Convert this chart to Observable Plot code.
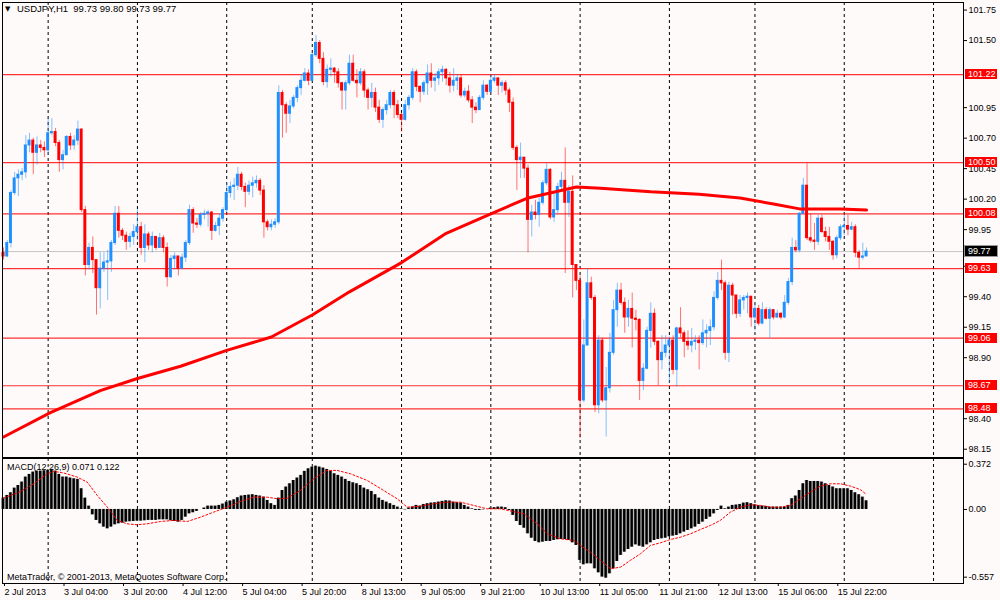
<!DOCTYPE html>
<html><head><meta charset="utf-8">
<script src="https://cdn.jsdelivr.net/npm/d3@7"></script>
<script src="https://cdn.jsdelivr.net/npm/@observablehq/plot@0.6"></script>
<style>
html,body{margin:0;padding:0;background:#fffafa;}
#wrap{position:relative;width:1000px;height:600px;overflow:hidden;background:#fffafa;font-family:"Liberation Sans",Arial,sans-serif;font-size:9px;color:#000;}
#wrap svg{position:absolute;left:0;overflow:visible;}
.txt{position:absolute;white-space:pre;line-height:12px;font-size:9px;}
.lbl{position:absolute;left:965px;width:32px;height:10px;line-height:10px;font-size:9px;padding-left:3px;box-sizing:border-box;color:#fff;white-space:pre;}
</style></head><body><div id="wrap"></div>
<script>
// ---------- data ----------
const symbol = "USDJPY,H1";
const firstOpen = 99.76;
const closes = [
99.73,99.84,100.25,100.37,100.40,100.42,100.64,100.68,100.58,100.64,
100.62,100.60,100.74,100.75,100.66,100.52,100.56,100.71,100.64,100.68,
100.77,100.11,99.66,99.80,99.70,99.47,99.63,99.68,99.69,99.84,
100.08,99.94,99.90,99.85,99.89,99.93,99.97,99.80,99.91,99.82,
99.89,99.80,99.88,99.80,99.56,99.71,99.73,99.63,99.72,99.84,
100.11,100.00,99.99,100.07,100.08,100.09,99.94,99.98,100.04,100.11,
100.25,100.30,100.31,100.40,100.30,100.26,100.31,100.33,100.35,100.27,
100.01,99.97,99.99,100.01,101.07,100.97,100.90,100.96,101.03,101.11,
101.17,101.23,101.17,101.38,101.48,101.35,101.16,101.26,101.27,101.24,
101.15,101.09,101.15,101.31,101.17,101.15,101.24,101.09,101.03,101.07,
100.95,100.85,100.93,100.97,101.07,100.97,100.89,100.85,100.97,101.03,
101.24,101.12,101.08,101.15,101.23,101.17,101.19,101.24,101.26,101.19,
101.13,101.17,101.19,101.05,101.08,101.01,100.95,100.93,101.03,101.13,
101.08,101.17,101.19,101.13,101.15,101.09,100.99,100.62,100.52,100.54,
100.45,100.03,100.09,100.07,100.17,100.33,100.44,100.05,100.11,100.30,
100.35,100.17,100.26,99.66,99.53,98.55,99.00,99.51,99.39,98.51,
99.04,98.55,98.65,98.94,99.29,99.45,99.35,99.23,99.30,99.22,
99.21,98.71,98.81,99.12,99.26,99.03,98.88,98.94,99.00,99.04,
98.80,99.14,99.10,99.03,99.00,99.03,99.04,99.02,99.10,99.12,
99.15,99.39,99.53,99.51,98.94,99.49,99.41,99.26,99.37,99.39,
99.40,99.23,99.30,99.18,99.29,99.22,99.29,99.23,99.26,99.23,
99.35,99.52,99.80,99.78,100.08,100.31,99.88,99.86,99.85,100.04,
99.93,99.89,99.85,99.74,99.88,99.97,99.98,99.95,99.97,99.76,
99.72,99.73,99.77];
const highs = [
99.80,99.86,100.27,100.42,100.44,100.45,100.72,100.74,100.70,100.71,
100.68,100.67,100.86,100.86,100.78,100.68,100.60,100.72,100.74,100.72,
100.84,100.78,100.14,99.84,99.89,99.70,99.76,99.76,99.78,99.86,
100.14,100.14,99.96,99.93,99.92,99.99,100.11,100.01,99.99,99.93,
99.93,99.86,99.92,99.90,99.84,99.74,99.76,99.73,99.75,99.86,
100.15,100.13,100.04,100.09,100.11,100.11,100.10,100.01,100.08,100.13,
100.33,100.34,100.37,100.46,100.42,100.33,100.35,100.38,100.39,100.37,
100.31,100.03,100.03,100.04,101.13,101.09,100.99,101.01,101.05,101.13,
101.22,101.27,101.26,101.40,101.54,101.50,101.40,101.30,101.35,101.28,
101.27,101.16,101.17,101.38,101.38,101.26,101.27,101.26,101.11,101.15,
101.11,101.01,100.95,101.01,101.09,101.09,101.01,100.91,101.01,101.05,
101.27,101.26,101.13,101.17,101.30,101.31,101.23,101.27,101.29,101.27,
101.24,101.27,101.22,101.22,101.11,101.13,101.04,100.99,101.05,101.17,
101.14,101.22,101.22,101.19,101.17,101.17,101.11,101.03,100.64,100.66,
100.54,100.48,100.15,100.19,100.21,100.35,100.49,100.45,100.25,100.33,
100.42,100.62,100.31,100.39,99.66,99.57,99.21,99.63,99.56,99.41,
99.08,99.06,98.82,99.10,99.37,99.51,99.51,99.39,99.37,99.43,
99.29,99.22,98.85,99.15,99.35,99.30,99.04,99.08,99.08,99.07,
99.08,99.15,99.31,99.12,99.12,99.14,99.08,99.08,99.21,99.17,
99.21,99.44,99.60,99.70,99.53,99.52,99.51,99.41,99.41,99.41,
99.43,99.40,99.35,99.33,99.35,99.31,99.31,99.29,99.29,99.27,
99.41,99.55,99.88,99.86,100.09,100.37,100.49,100.08,100.00,100.07,
100.07,99.97,99.97,99.86,99.90,99.99,100.07,100.07,100.01,99.99,
99.78,99.84,99.80];
const lows = [
99.70,99.72,99.80,100.23,100.22,100.35,100.37,100.58,100.40,100.48,
100.58,100.54,100.56,100.72,100.63,100.42,100.44,100.56,100.60,100.60,
100.64,100.09,99.57,99.62,99.59,99.25,99.30,99.60,99.37,99.60,
99.82,99.88,99.86,99.78,99.80,99.82,99.86,99.74,99.68,99.78,
99.76,99.78,99.80,99.76,99.48,99.55,99.62,99.57,99.62,99.68,
99.82,99.92,99.96,99.97,100.03,99.97,99.86,99.93,99.90,100.01,
100.09,100.21,100.19,100.27,100.27,100.13,100.23,100.21,100.29,100.23,
99.88,99.94,99.94,99.96,99.99,100.70,100.74,100.82,100.94,100.99,
101.05,101.16,101.13,101.17,101.36,101.31,101.13,101.11,101.20,101.15,
101.11,100.93,100.93,101.13,101.16,101.03,101.13,101.03,100.93,100.95,
100.91,100.82,100.78,100.89,100.94,100.86,100.86,100.75,100.84,100.93,
101.01,101.08,100.99,101.05,101.05,101.11,101.08,101.13,101.16,101.13,
101.07,101.08,101.09,101.03,101.03,100.99,100.82,100.90,100.93,101.01,
101.05,101.07,101.15,101.05,101.07,101.05,100.91,100.60,100.27,100.37,
100.37,99.76,99.89,100.03,99.97,100.15,100.31,100.03,100.01,100.07,
100.26,99.59,100.05,99.39,99.45,98.24,98.53,99.00,99.37,98.45,
98.44,98.53,98.25,98.61,98.92,99.15,99.33,99.10,99.15,98.98,
99.12,98.55,98.63,98.80,98.98,99.00,98.67,98.80,98.90,98.69,
98.76,98.66,99.06,98.90,98.96,98.94,98.96,98.80,99.00,98.98,
99.00,99.12,99.37,99.45,98.88,98.86,99.25,99.22,99.23,99.29,
99.26,99.15,99.12,99.16,99.17,99.21,99.06,99.21,99.22,99.21,
99.22,99.33,99.49,99.76,99.76,100.08,99.86,99.84,99.78,99.82,
99.92,99.85,99.78,99.70,99.71,99.86,99.90,99.90,99.94,99.72,
99.63,99.70,99.73];
// moving average (sparse readings: bar position, value)
const maBars   = [0, 12.6, 26, 36, 47.6, 60, 72, 83, 93, 107, 119, 131, 141, 154, 160.5, 174, 187, 198, 207, 214, 225, 232];
const maValues = [98.25, 98.45, 98.63, 98.73, 98.83, 98.96, 99.07, 99.25, 99.44, 99.68, 99.92, 100.08, 100.21, 100.30, 100.29, 100.26, 100.24, 100.21, 100.16, 100.12, 100.12, 100.11];
// horizontal levels
const levels = [101.22, 100.50, 100.08, 99.63, 99.06, 98.67, 98.48];
const priceTicks = [101.75, 101.50, 100.95, 100.70, 100.45, 100.20, 99.95, 99.65, 99.40, 99.15, 98.90, 98.40, 98.15];
// MACD(12,26,9)
const macdHist = [
0.093,0.115,0.137,0.175,0.197,0.225,0.266,0.288,0.307,0.315,
0.315,0.318,0.321,0.329,0.315,0.288,0.266,0.266,0.258,0.252,
0.247,0.17,0.093,0.027,-0.044,-0.09,-0.118,-0.145,-0.159,-0.145,
-0.126,-0.118,-0.112,-0.104,-0.101,-0.099,-0.096,-0.096,-0.093,-0.09,
-0.09,-0.09,-0.085,-0.085,-0.085,-0.093,-0.099,-0.104,-0.09,-0.063,
-0.036,-0.027,-0.016,0.0,0.011,0.027,0.027,0.027,0.033,0.044,
0.06,0.069,0.079,0.096,0.11,0.115,0.118,0.121,0.115,0.11,
0.101,0.074,0.047,0.033,0.093,0.156,0.184,0.211,0.238,0.258,
0.28,0.313,0.334,0.348,0.356,0.348,0.34,0.329,0.313,0.293,
0.28,0.266,0.247,0.23,0.219,0.211,0.197,0.175,0.162,0.148,
0.121,0.093,0.074,0.06,0.047,0.033,0.019,0.005,-0.003,0.011,
0.019,0.033,0.027,0.041,0.047,0.052,0.055,0.06,0.066,0.071,
0.069,0.06,0.055,0.052,0.033,0.019,0.005,-0.008,-0.008,-0.003,
0.0,0.011,0.014,0.019,0.019,0.014,-0.008,-0.049,-0.099,-0.132,
-0.154,-0.2,-0.236,-0.263,-0.274,-0.269,-0.263,-0.263,-0.255,-0.249,
-0.247,-0.247,-0.255,-0.274,-0.296,-0.419,-0.455,-0.447,-0.447,-0.488,
-0.521,-0.556,-0.565,-0.529,-0.488,-0.428,-0.378,-0.351,-0.329,-0.31,
-0.291,-0.302,-0.31,-0.291,-0.274,-0.255,-0.247,-0.241,-0.236,-0.225,
-0.219,-0.214,-0.2,-0.186,-0.173,-0.159,-0.145,-0.123,-0.104,-0.082,
-0.063,-0.036,-0.008,0.027,0.005,0.019,0.033,0.036,0.041,0.052,
0.055,0.047,0.038,0.03,0.027,0.025,0.019,0.019,0.019,0.019,
0.019,0.033,0.088,0.11,0.156,0.211,0.238,0.23,0.23,0.23,
0.225,0.211,0.197,0.184,0.17,0.17,0.17,0.17,0.156,0.137,
0.121,0.101,0.071];
const signalBars = [0,4.6,8.1,11.7,13.5,16.2,19.8,22.5,25.2,27.9,30.6,33.2,35.9,38.6,42.2,45.8,49.4,53,56.5,60.1,63.7,67.3,70.9,73.6,76.3,79.8,83.4,87,89.7,93.3,97.8,102.2,105.8,108.5,112.1,115.7,119.3,122.8,126.4,130,133.6,139.9,143.5,146.2,149.7,153.3,155.1,157.8,160.5,163.2,165.9,168.5,171.2,173.9,176.6,179.3,182,184.7,187.4,190,192.7,195.4,198.1,200.8,203.5,206.2,208.9,211.6,214.2,216.9,219.6,222.3,225,227.7,230.4,232];
const signalValues = [0.093,0.148,0.211,0.293,0.313,0.30,0.266,0.225,0.115,0.019,-0.09,-0.118,-0.126,-0.118,-0.099,-0.09,-0.099,-0.063,-0.022,0.019,0.066,0.101,0.101,0.088,0.093,0.156,0.252,0.321,0.321,0.293,0.238,0.156,0.088,0.019,0.027,0.047,0.06,0.06,0.033,0.005,0.005,-0.036,-0.118,-0.2,-0.241,-0.255,-0.296,-0.351,-0.419,-0.488,-0.474,-0.419,-0.365,-0.296,-0.274,-0.247,-0.228,-0.2,-0.164,-0.132,-0.09,-0.022,0.019,0.038,0.033,0.019,0.019,0.033,0.088,0.143,0.192,0.211,0.211,0.192,0.162,0.122];
const macdTicks = [0.372, 0, -0.557];
const macdTickLabels = ["0.372", "0.00", "-0.557"];
// time axis
const labelBars = [0,16,32,48,64,80,96,112,128,144,160,176,192,208,224];
const timeLabels = ["2 Jul 2013","3 Jul 04:00","3 Jul 20:00","4 Jul 12:00","5 Jul 04:00","5 Jul 20:00","8 Jul 13:00","9 Jul 05:00","9 Jul 21:00","10 Jul 13:00","11 Jul 05:00","11 Jul 21:00","12 Jul 13:00","15 Jul 06:00","15 Jul 22:00"];
const gridBars = [12,36,60,83,107,131,155,179,202,226,250];

// ---------- build ----------
const X_DOMAIN = [-0.27, 258.06];
const BLUE = "#1e90ff", RED = "#ff0000";
const candles = closes.map((c, i) => {
  const o = i === 0 ? firstOpen : closes[i - 1];
  return {i, o, c, h: highs[i], l: lows[i], up: c >= o};
});
const last = candles[candles.length - 1];
const ma = maBars.map((b, k) => ({b, v: maValues[k]}));
const hist = macdHist.map((v, i) => ({i, v}));
const signal = signalBars.map((b, k) => ({b, v: signalValues[k]}));
const font = "'Liberation Sans', Arial, sans-serif";
const gridOpts = {stroke: "#000", strokeDasharray: "3,3", strokeWidth: 1};

const main = Plot.plot({
  width: 1000, height: 458,
  marginLeft: 2, marginRight: 37, marginTop: 2, marginBottom: 1,
  style: {background: "transparent", fontFamily: font, fontSize: "9px", color: "#000", overflow: "visible"},
  x: {domain: X_DOMAIN, axis: null},
  y: {domain: [98.082, 101.812], axis: null},
  marks: [
    Plot.ruleX(gridBars, gridOpts),
    Plot.ruleY(levels, {stroke: RED, strokeWidth: 1.2, strokeOpacity: 0.8}),
    Plot.ruleY([last.c], {stroke: "#c4c4c4"}),
    Plot.ruleX(candles, {x: "i", y1: "l", y2: "h", stroke: d => d.up ? BLUE : RED, strokeOpacity: 0.55}),
    Plot.rect(candles, {
      x1: d => d.i - 0.4, x2: d => d.i + 0.4,
      y1: d => Math.min(d.o, d.c), y2: d => Math.max(d.o, d.c),
      fill: d => d.up ? BLUE : RED, insetTop: -0.5, insetBottom: -0.5
    }),
    Plot.line(ma, {x: "b", y: "v", stroke: RED, strokeWidth: 3}),
    Plot.axisY({anchor: "right", label: null, ticks: priceTicks, tickFormat: d => d.toFixed(2), tickSize: 3, tickPadding: 2, fill: "#000"}),
    Plot.frame({stroke: "#000"})
  ]
});
main.style.top = "0px";

const macd = Plot.plot({
  width: 1000, height: 144,
  marginLeft: 2, marginRight: 37, marginTop: 2, marginBottom: 17,
  style: {background: "transparent", fontFamily: font, fontSize: "9px", color: "#000", overflow: "visible"},
  x: {domain: X_DOMAIN, axis: null, label: null},
  y: {domain: [-0.609, 0.419], axis: null, label: null},
  marks: [
    Plot.ruleX(gridBars, gridOpts),
    Plot.rect(hist, {x1: d => d.i - 0.5, x2: d => d.i + 0.5, y1: 0, y2: "v", fill: "#a8a8a8"}),
    Plot.rect(hist, {x1: d => d.i - 0.32, x2: d => d.i + 0.32, y1: 0, y2: "v", fill: "#000"}),
    Plot.line(signal, {x: "b", y: "v", stroke: RED, strokeDasharray: "2,2", strokeWidth: 1}),
    Plot.axisY({anchor: "right", label: null, ticks: macdTicks, tickFormat: d => macdTickLabels[macdTicks.indexOf(d)], tickSize: 3, tickPadding: 2, fill: "#000"}),
    Plot.axisX({label: null, ticks: labelBars, tickFormat: d => timeLabels[labelBars.indexOf(d)], textAnchor: "start", tickSize: 3, tickPadding: 2, dx: 1, fill: "#000"}),
    Plot.frame({stroke: "#000"})
  ]
});
macd.style.top = "456px";

const wrap = document.getElementById("wrap");
wrap.appendChild(main);
wrap.appendChild(macd);

function addText(txt, left, top, cls, extra) {
  const d = document.createElement("div");
  d.className = cls;
  d.textContent = txt;
  d.style.left = left + "px";
  d.style.top = top + "px";
  if (extra) Object.assign(d.style, extra);
  wrap.appendChild(d);
  return d;
}
const fmt = v => v.toFixed(2);
addText("\u25BC", 5, 3, "txt", {fontSize: "7px", fontFamily: "'DejaVu Sans', sans-serif"});
addText(`${symbol}  ${fmt(last.o)} ${fmt(last.h)} ${fmt(last.l)} ${fmt(last.c)}`, 17, 3, "txt", {fontSize: "9.5px"});
addText(`MACD(12,26,9) ${macdHist[macdHist.length-1].toFixed(3)} ${signalValues[signalValues.length-1].toFixed(3)}`, 7, 461, "txt");
addText("MetaTrader, \u00A9 2001-2013, MetaQuotes Software Corp.", 7, 571, "txt");

const ys = main.scale("y");
levels.forEach(v => {
  addText(fmt(v), 965, ys.apply(v) - 5, "lbl", {background: RED});
});
addText(fmt(last.c), 965, ys.apply(last.c) - 5, "lbl", {background: "#000", outline: "1px solid #9a9a9a"});
</script></body></html>
